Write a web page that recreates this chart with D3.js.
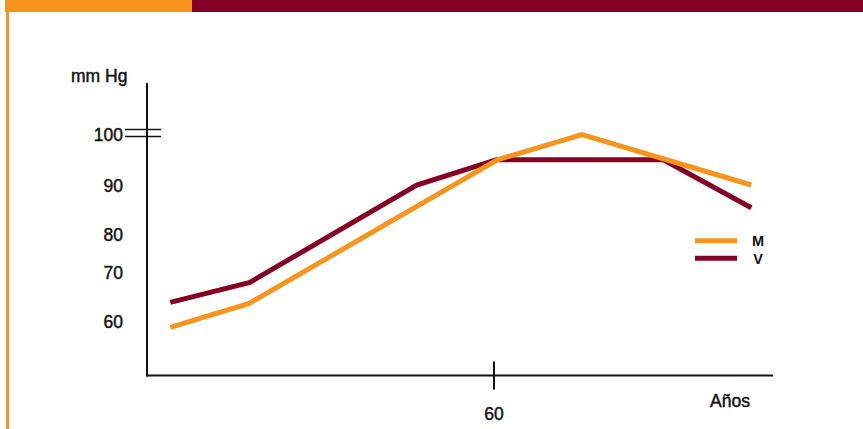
<!DOCTYPE html>
<html>
<head>
<meta charset="utf-8">
<script src="https://cdn.jsdelivr.net/npm/d3@7/dist/d3.min.js"></script>
<style>
  html, body { margin: 0; padding: 0; background: #fff; }
  svg { display: block; }
  text { font-family: "Liberation Sans", Arial, Helvetica, sans-serif; fill: #111; }
  text.lbl { stroke: #111; stroke-width: 0.45px; }
</style>
</head>
<body>
<svg id="chart" width="863" height="429"></svg>
<script>
// Blood pressure (mm Hg) by age, women (M) and men (V)
const seriesNames = ["M", "V"];
const seriesColors = ["#F7941D", "#840024"];
const agesM = [21, 30.5, 60.4, 70.6, 91];
const valuesM = [58.8, 63.7, 95, 100, 90];
const agesV = [21, 30.6, 50.7, 60.3, 80.4, 91];
const valuesV = [63.9, 68, 90, 95, 95, 85.4];
const yTicks = [60, 70, 80, 90, 100];
const xTicks = [60];
const yTitle = "mm Hg";
const xTitle = "Años";

const svg = d3.select("#chart");

// Header band and left rule
svg.append("rect").attr("x", 5).attr("y", 0).attr("width", 187).attr("height", 12).attr("fill", "#F7941D");
svg.append("rect").attr("x", 192).attr("y", 0).attr("width", 671).attr("height", 12).attr("fill", "#840024");
svg.append("rect").attr("x", 6).attr("y", 12).attr("width", 3).attr("height", 417).attr("fill", "#F7941D");

// Scales: the vertical axis is schematic, so its ticks are unevenly spaced
const x = d3.scaleLinear().domain([0, 100]).range([494 - 60 * 8.3, 494 + 40 * 8.3]);
const y = d3.scaleLinear().domain(yTicks).range([321.5, 272.5, 234.5, 185, 134.5]);

const axisLeft = 147, axisBottom = 375.5, axisTop = 83, axisRight = 773;

// Axes
svg.append("line").attr("x1", axisLeft).attr("x2", axisLeft).attr("y1", axisTop).attr("y2", axisBottom + 1)
  .attr("stroke", "#111").attr("stroke-width", 2);
svg.append("line").attr("x1", axisLeft - 1).attr("x2", axisRight).attr("y1", axisBottom).attr("y2", axisBottom)
  .attr("stroke", "#111").attr("stroke-width", 2);

// Axis break marks at 100
[-3.6, 3.6].forEach(d => {
  svg.append("line").attr("x1", 125).attr("x2", 161)
    .attr("y1", y(100) - 1.5 + d).attr("y2", y(100) - 1.5 + d)
    .attr("stroke", "#111").attr("stroke-width", 1.5);
});

// Y tick labels
svg.selectAll("text.ytick").data(yTicks).join("text")
  .attr("class", "ytick lbl")
  .attr("x", 123).attr("y", d => y(d) + 6.5)
  .attr("text-anchor", "end").attr("font-size", 17.5)
  .text(d => d);

// X ticks
xTicks.forEach(t => {
  svg.append("line").attr("x1", x(t)).attr("x2", x(t)).attr("y1", axisBottom - 14).attr("y2", axisBottom + 14)
    .attr("stroke", "#111").attr("stroke-width", 2);
  svg.append("text").attr("class", "lbl").attr("x", x(t)).attr("y", 419.5)
    .attr("text-anchor", "middle").attr("font-size", 17.5).text(t);
});

// Axis titles
svg.append("text").attr("class", "lbl").attr("x", 71).attr("y", 82).attr("font-size", 17.5).text(yTitle);
svg.append("text").attr("class", "lbl").attr("x", 710).attr("y", 407).attr("font-size", 17.5).text(xTitle);

// Series lines
const line = d3.line().x(d => x(d[0])).y(d => y(d[1]));
const series = [d3.zip(agesM, valuesM), d3.zip(agesV, valuesV)];
// draw V first so M sits on top where they cross
[1, 0].forEach(i => {
  svg.append("path").datum(series[i]).attr("d", line)
    .attr("fill", "none").attr("stroke", seriesColors[i]).attr("stroke-width", 5);
});

// Legend
seriesNames.forEach((name, i) => {
  const ly = 240.7 + i * 17.6;
  svg.append("line").attr("x1", 695).attr("x2", 737).attr("y1", ly).attr("y2", ly)
    .attr("stroke", seriesColors[i]).attr("stroke-width", 5);
  svg.append("text").attr("x", 758).attr("y", ly + 5.5).attr("text-anchor", "middle")
    .attr("font-size", 14.5).attr("font-weight", "bold").text(name);
});
</script>
</body>
</html>
